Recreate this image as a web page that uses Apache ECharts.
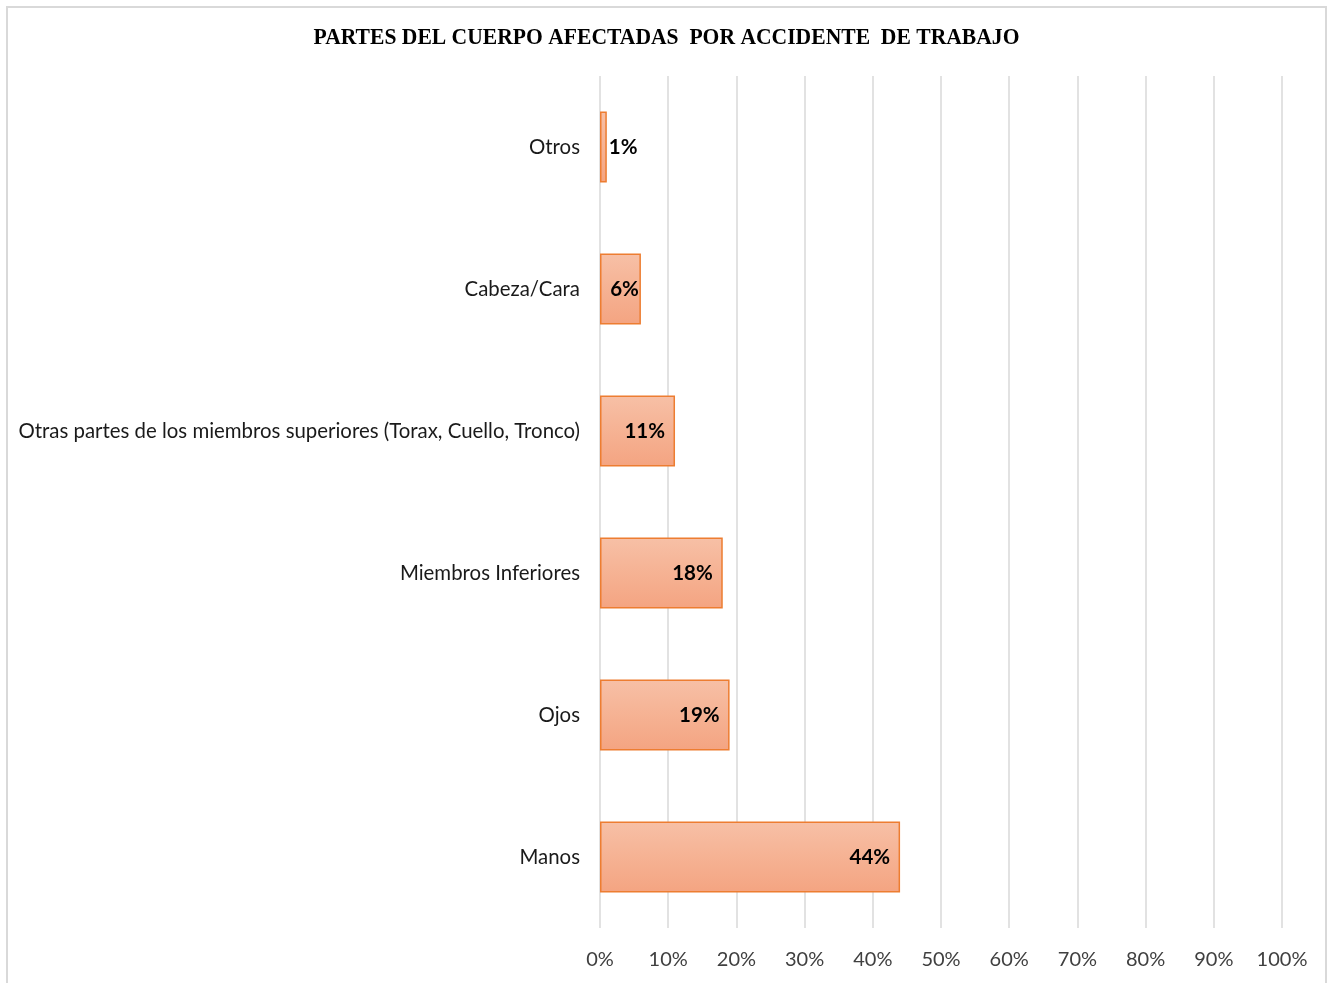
<!DOCTYPE html>
<html>
<head>
<meta charset="utf-8">
<script src="https://cdn.jsdelivr.net/npm/echarts@6/dist/echarts.min.js"></script>
<style>
  html, body { margin: 0; padding: 0; background: #ffffff; }
  #chart { width: 1328px; height: 983px; }
</style>
</head>
<body>
<div id="chart"></div>
<script>
// Body parts affected by work accidents (share of cases, %)
const categories = [
  'Manos',
  'Ojos',
  'Miembros Inferiores',
  'Otras partes de los miembros superiores (Torax, Cuello, Tronco)',
  'Cabeza/Cara',
  'Otros'
];
const shares = [44, 19, 18, 11, 6, 1];
const tickValues = [0, 10, 20, 30, 40, 50, 60, 70, 80, 90, 100];
const titleText = 'PARTES DEL CUERPO AFECTADAS  POR ACCIDENTE  DE TRABAJO';

const labelFont = 'Lato, "Open Sans", "Liberation Sans", sans-serif';

const chart = echarts.init(document.getElementById('chart'), null, { renderer: 'canvas' });

// inside-end label distance: short bars keep the label tight to the bar end
function labelFor(v) {
  if (v < 3) return { position: 'right', distance: 2 };
  if (v < 8) return { position: 'insideRight', distance: 2 };
  return undefined;
}

chart.setOption({
  animation: false,
  backgroundColor: '#ffffff',
  graphic: [
    {
      type: 'rect',
      silent: true,
      z: -1,
      shape: { x: 7, y: 7, width: 1319, height: 1000 },
      style: { fill: 'none', stroke: '#d9d9d9', lineWidth: 2 }
    },
    {
      // condensed serif heading
      type: 'text',
      silent: true,
      x: 666.5,
      y: 38,
      scaleX: 0.9,
      style: {
        text: titleText,
        x: 0,
        y: 0,
        align: 'center',
        verticalAlign: 'middle',
        fontFamily: '"Liberation Serif", "Times New Roman", serif',
        fontWeight: 'bold',
        fontSize: 24,
        fill: '#000000'
      }
    }
  ],
  grid: {
    left: 600,
    right: 46,
    top: 76,
    bottom: 55,
    containLabel: false
  },
  xAxis: {
    type: 'value',
    min: tickValues[0],
    max: tickValues[tickValues.length - 1],
    interval: 10,
    axisLine: { show: false },
    axisTick: { show: false },
    splitLine: { show: true, lineStyle: { color: '#d9d9d9', width: 1.5 } },
    axisLabel: {
      margin: 22,
      fontFamily: labelFont,
      fontSize: 20,
      color: '#404040',
      formatter: v => v + '%'
    }
  },
  yAxis: {
    type: 'category',
    data: categories,
    axisLine: { show: false },
    axisTick: { show: false },
    axisLabel: {
      margin: 20,
      fontFamily: labelFont,
      fontSize: 20.4,
      color: '#1a1a1a',
      padding: [3, 0, 0, 0]
    }
  },
  series: [{
    type: 'bar',
    data: shares.map(v => {
      const item = { value: v };
      const lbl = labelFor(v);
      if (lbl) item.label = lbl;
      return item;
    }),
    barCategoryGap: '50%',
    itemStyle: {
      color: new echarts.graphic.LinearGradient(0, 0, 0, 1, [
        { offset: 0, color: '#f7c0a6' },
        { offset: 1, color: '#f4a481' }
      ]),
      borderColor: '#ed7d31',
      borderWidth: 1.5
    },
    label: {
      show: true,
      position: 'insideRight',
      distance: 10,
      formatter: p => p.value + '%',
      fontFamily: labelFont,
      fontWeight: 'bold',
      fontSize: 20.5,
      color: '#000000',
      padding: [4, 0, 0, 0]
    }
  }]
});
</script>
</body>
</html>
